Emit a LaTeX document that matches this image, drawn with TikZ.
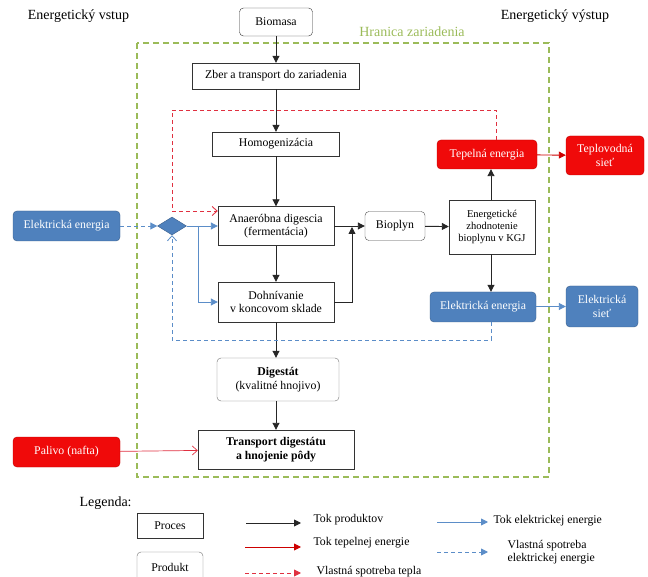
\documentclass[tikz,border=0pt]{standalone}
\usepackage{fontspec}
\setmainfont{Liberation Serif}
\usetikzlibrary{shapes.geometric,arrows.meta,calc}
\definecolor{redfill}{HTML}{F00A0A}
\definecolor{redline}{HTML}{C00000}
\definecolor{bluefill}{HTML}{4F81BD}
\definecolor{blueline}{HTML}{385D8A}
\definecolor{bluearrow}{HTML}{5B8DC8}
\definecolor{reddash}{HTML}{E03040}
\definecolor{greenb}{HTML}{9BBB59}
\tikzset{
  txt/.style={font=\fontsize{11.8}{13.5}\selectfont},
  proc/.style={draw=black!80, fill=white, inner sep=0pt, align=center, txt},
  prod/.style={proc, draw=black!55, rounded corners=4pt},
  redbox/.style={draw=redline, fill=redfill, rounded corners=4pt, inner sep=0pt, align=center, text=white, txt},
  bluebox/.style={draw=blueline, fill=bluefill, rounded corners=4pt, inner sep=0pt, align=center, text=white, txt},
  blk/.style={draw=black!85, line width=0.9pt, -{Triangle[length=7pt,width=7pt]}},
  redsolid/.style={draw=redline!80!red, line width=0.9pt, -{Triangle[length=7pt,width=7pt]}},
  redopen/.style={draw=reddash, line width=0.7pt, -{Straight Barb[length=5pt,width=9pt]}},
  reddsh/.style={draw=reddash, line width=0.9pt, dash pattern=on 4pt off 3pt, -{Straight Barb[length=5pt,width=9pt]}},
  bluesolid/.style={draw=bluearrow, line width=0.9pt, -{Triangle[length=7pt,width=7pt]}},
  bluedsh/.style={draw=bluearrow, line width=0.9pt, dash pattern=on 4pt off 3pt, -{Triangle[length=7pt,width=7pt]}},
  bluedshopen/.style={draw=bluearrow, line width=0.8pt, dash pattern=on 4pt off 3pt, -{Straight Barb[length=5pt,width=9pt]}},
  hdr/.style={font=\fontsize{14}{16}\selectfont},
}
\begin{document}
\begin{tikzpicture}[x=1pt,y=-1pt]
\useasboundingbox (0,0) rectangle (648,577);
% boundary
\draw[greenb, line width=1.1pt, dash pattern=on 6pt off 4pt] (137,43) rectangle (549,477);
\node[text=greenb, hdr] (hran) at (412,32) {Hranica zariadenia};
\node[hdr] (vstup) at (78.5,16) {Energetický vstup};
\node[hdr] (vystup) at (555,16) {Energetický výstup};
% main column
\node[prod, draw=black!80, minimum width=73, minimum height=28] (biomasa) at (276,22) {Biomasa};
\node[proc, minimum width=167, minimum height=26] (zber) at (276,76) {Zber a transport do zariadenia};
\node[proc, minimum width=127, minimum height=24] (homog) at (276,144) {Homogenizácia};
\node[proc, minimum width=116, minimum height=39] (anaer) at (276,226) {Anaeróbna digescia\\(fermentácia)};
\node[proc, minimum width=116, minimum height=40] (dohn) at (276,302) {Dohnívanie\\v koncovom sklade};
\node[prod, minimum width=122, minimum height=43] (digest) at (278,379.5) {\textbf{Digestát}\\(kvalitné hnojivo)};
\node[proc, minimum width=156, minimum height=39, font=\bfseries\fontsize{11.8}{13.5}\selectfont] (transp) at (276,449.5) {Transport digestátu\\a hnojenie pôdy};
\node[prod, draw=black!70, minimum width=60, minimum height=29] (bioplyn) at (395,226) {Bioplyn};
\node[proc, minimum width=86, minimum height=54, font=\fontsize{10.5}{12}\selectfont] (kgj) at (492,227) {Energetické\\zhodnotenie\\bioplynu v KGJ};
\node[redbox, minimum width=100, minimum height=29] (tepel) at (487,154.5) {Tepelná energia};
\node[redbox, minimum width=78, minimum height=39] (teplov) at (605,155.5) {Teplovodná\\sieť};
\node[bluebox, minimum width=106, minimum height=30] (eleR) at (483,307) {Elektrická energia};
\node[bluebox, minimum width=72, minimum height=41] (siet) at (602,306.5) {Elektrická\\sieť};
\node[bluebox, minimum width=107, minimum height=30] (eleL) at (66.5,226) {Elektrická energia};
\node[redbox, minimum width=107, minimum height=30] (palivo) at (66.5,452) {Palivo (nafta)};
\node[diamond, draw=blueline, fill=bluefill, minimum width=29, minimum height=18, inner sep=0pt] (dia) at (172,226) {};
% product flow
\draw[blk] (biomasa) -- (zber);
\draw[blk] (zber) -- (homog);
\draw[blk] (homog) -- (anaer);
\draw[blk] (anaer) -- (dohn);
\draw[blk] (dohn) -- (digest.north -| dohn.south);
\draw[blk] (digest.south -| transp.north) -- (transp);
\draw[blk] (anaer) -- (bioplyn);
\coordinate (jn) at (352,226);
\draw[blk] (dohn.east) -- (dohn.east -| jn) -- ([yshift=-1pt]jn);
\draw[blk] (bioplyn) -- (kgj);
\coordinate (kt) at (491,0);
\draw[blk] (kgj.north -| kt) -- (tepel.south -| kt);
\draw[blk] (kgj.south -| kt) -- (eleR.north -| kt);
% heat
\draw[redsolid] (tepel) -- (teplov);
\draw[redopen] (palivo) -- (transp);
\coordinate (rtop) at (172,110);
\coordinate (rup) at (496,0);
\coordinate (rin) at (172,211);
\draw[reddsh] (tepel.north -| rup) |- (rtop) -- (rin) -- (rin -| anaer.west);
% electricity
\draw[bluedsh] (eleL) -- (dia);
\draw[bluesolid] (dia) -- (anaer);
\coordinate (br) at (198,226);
\draw[bluesolid] (br) |- (dohn.west);
\draw[bluesolid] (eleR.east |- siet) -- (siet);
\coordinate (bbot) at (172,340);
\draw[bluedshopen] (eleR.south -| kt) |- (bbot) -- (dia.south);
% legend
\node[font=\fontsize{14}{16}\selectfont, anchor=west] (leg) at (76,503) {Legenda:};
\node[proc, minimum width=66, minimum height=25] (lproc) at (170,525.5) {Proces};
\node[prod, minimum width=66, minimum height=30] (lprod) at (170,567) {Produkt};
\coordinate (a1s) at (246,523); \coordinate (a1e) at (301,523);
\draw[blk] (a1s) -- (a1e);
\node[txt, anchor=west] (t1) at (310,520) {Tok produktov};
\coordinate (a2s) at (245,547); \coordinate (a2e) at (301,547);
\draw[redsolid] (a2s) -- (a2e);
\node[txt, anchor=west] (t2) at (310,543) {Tok tepelnej energie};
\coordinate (a3s) at (245,573); \coordinate (a3e) at (301,573);
\draw[draw=reddash, line width=0.9pt, dash pattern=on 4pt off 3pt, -{Triangle[length=7pt,width=7pt]}] (a3s) -- (a3e);
\node[txt, anchor=west] (t3) at (313,572) {Vlastná spotreba tepla};
\coordinate (a4s) at (437,522); \coordinate (a4e) at (488,522);
\draw[bluesolid] (a4s) -- (a4e);
\node[txt, anchor=west] (t4) at (490,521) {Tok elektrickej energie};
\coordinate (a5s) at (437,552); \coordinate (a5e) at (488,552);
\draw[bluedsh] (a5s) -- (a5e);
\node[txt, anchor=west, align=left] (t5) at (504,552) {Vlastná spotreba\\elektrickej energie};
\end{tikzpicture}
\end{document}
